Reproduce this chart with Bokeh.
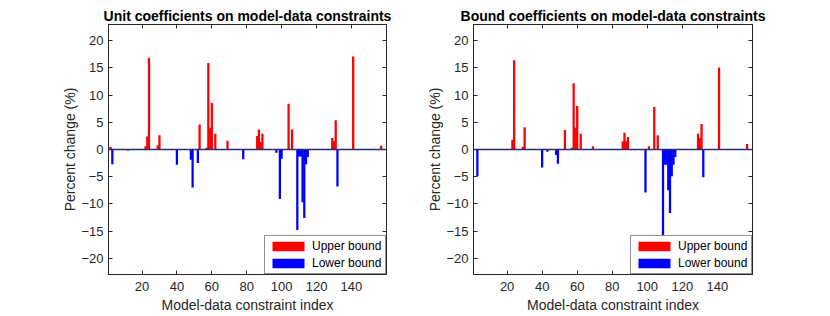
from bokeh.plotting import figure
from bokeh.layouts import row
from bokeh.models import (Range1d, FixedTicker, LinearAxis, Legend, LegendItem,
                          Span, ColumnDataSource)
from bokeh.embed import file_html
from bokeh.resources import INLINE

# ---------------- data ----------------
titles = ["Unit coefficients on model-data constraints",
          "Bound coefficients on model-data constraints"]
x_label = "Model-data constraint index"
y_label = "Percent change (%)"
legend_labels = ["Upper bound", "Lower bound"]
x_ticks = [20, 40, 60, 80, 100, 120, 140]
y_ticks = [-20, -15, -10, -5, 0, 5, 10, 15, 20]
x_lim = (0.8, 160.1)
y_lim = (-23, 23)

unit_upper_idx = [2, 22, 23, 24, 29, 30, 53, 57, 58, 59, 60, 62, 69, 86, 87, 88, 89,
                  104, 106, 129, 130, 131, 141, 157]
unit_upper_val = [0.5, 0.6, 2.4, 16.9, 0.8, 2.6, 4.6, 0.3, 15.9, 4.0, 8.6, 2.9, 1.6,
                  2.5, 3.7, 1.4, 2.9, 8.4, 3.7, 2.1, 1.5, 5.4, 17.1, 0.7]
unit_lower_idx = [3, 12, 40, 48, 49, 52, 78, 97, 99, 100, 109, 110, 111, 112, 113,
                  114, 115, 132]
unit_lower_val = [-2.7, -0.2, -2.8, -1.9, -7.0, -2.5, -1.8, -0.6, -9.1, -1.7, -14.8,
                  -1.3, -1.3, -9.7, -12.6, -2.7, -1.4, -6.8]

bound_upper_idx = [23, 24, 29, 30, 53, 57, 58, 59, 60, 62, 69, 86, 87, 88, 89, 101,
                   104, 106, 129, 130, 131, 141, 157]
bound_upper_val = [1.8, 16.4, 0.5, 4.1, 3.6, 0.3, 12.2, 4.0, 8.0, 2.9, 0.6, 1.5, 3.1,
                   1.5, 2.3, 0.6, 7.8, 2.6, 2.9, 2.1, 4.7, 15.1, 1.0]
bound_lower_idx = [3, 40, 43, 48, 49, 99, 109, 110, 111, 112, 113, 114, 115, 116, 132]
bound_lower_val = [-4.9, -3.3, -0.4, -1.0, -2.6, -7.9, -15.9, -2.8, -2.8, -7.5,
                   -11.7, -4.9, -2.8, -1.4, -5.1]

FONT = "Liberation Sans"
TXT = "#262626"


def make_panel(title, up_idx, up_val, lo_idx, lo_val, width, border_left, border_right):
    p = figure(width=width, height=316, x_range=Range1d(*x_lim),
               y_range=Range1d(*y_lim), output_backend="svg",
               toolbar_location=None, min_border_left=border_left,
               min_border_right=border_right, min_border_top=24,
               min_border_bottom=42)
    p.grid.visible = False
    p.outline_line_color = TXT
    p.outline_line_width = 1
    p.background_fill_color = "white"

    p.title.text = title
    p.title.text_font = FONT
    p.title.text_font_size = "14px"
    p.title.text_font_style = "bold"
    p.title.text_color = "black"
    p.title.align = "center"
    p.title.standoff = 2
    p.title.text_line_height = 0.8

    up_src = ColumnDataSource(dict(x=up_idx, top=up_val))
    lo_src = ColumnDataSource(dict(x=lo_idx, top=lo_val))
    r_up = p.vbar(x="x", top="top", bottom=0, width=1.3, source=up_src,
                  fill_color="#ff0000", line_color=None)
    r_lo = p.vbar(x="x", top="top", bottom=0, width=1.3, source=lo_src,
                  fill_color="#0000ff", line_color=None)

    p.add_layout(Span(location=0, dimension="width", line_color="#2b2b7a",
                      line_width=1.5))

    for ax in (p.xaxis[0], p.yaxis[0]):
        ax.major_tick_in = 4
        ax.major_tick_out = 0
        ax.minor_tick_in = 0
        ax.minor_tick_out = 0
        ax.axis_line_color = TXT
        ax.major_tick_line_color = TXT
        ax.major_label_text_font = FONT
        ax.major_label_text_font_size = "13px"
        ax.major_label_text_color = TXT
        ax.axis_label_text_font = FONT
        ax.axis_label_text_font_size = "14px"
        ax.axis_label_text_font_style = "normal"
        ax.axis_label_text_color = TXT
    p.xaxis[0].ticker = FixedTicker(ticks=x_ticks)
    p.yaxis[0].ticker = FixedTicker(ticks=y_ticks)
    p.xaxis[0].axis_label = x_label
    p.yaxis[0].axis_label = y_label
    p.xaxis[0].major_label_standoff = 7
    p.xaxis[0].axis_label_standoff = 3
    p.yaxis[0].major_label_standoff = 5
    p.yaxis[0].axis_label_standoff = 0

    top_ax = LinearAxis(ticker=FixedTicker(ticks=x_ticks), major_tick_in=4,
                        major_tick_out=0, minor_tick_in=0, minor_tick_out=0,
                        major_label_text_font_size="1px",
                        major_label_text_color=None, major_label_standoff=0,
                        axis_line_color=TXT, major_tick_line_color=TXT)
    right_ax = LinearAxis(ticker=FixedTicker(ticks=y_ticks), major_tick_in=4,
                          major_tick_out=0, minor_tick_in=0, minor_tick_out=0,
                          major_label_text_font_size="1px",
                          major_label_text_color=None, major_label_standoff=0,
                          axis_line_color=TXT, major_tick_line_color=TXT)
    p.add_layout(top_ax, "above")
    p.add_layout(right_ax, "right")

    legend = Legend(items=[LegendItem(label=legend_labels[0], renderers=[r_up]),
                           LegendItem(label=legend_labels[1], renderers=[r_lo])],
                    location="bottom_right", margin=0, padding=3, spacing=3,
                    glyph_width=40, glyph_height=12, label_height=12,
                    label_standoff=4, label_width=70,
                    label_text_font=FONT, label_text_font_size="12px",
                    label_text_color="black", border_line_color=TXT,
                    border_line_width=1, background_fill_alpha=1)
    p.add_layout(legend)
    return p


p1 = make_panel(titles[0], unit_upper_idx, unit_upper_val,
                unit_lower_idx, unit_lower_val, 415, 108, 29)
p2 = make_panel(titles[1], bound_upper_idx, bound_upper_val,
                bound_lower_idx, bound_lower_val, 407, 58, 70)

layout = row(p1, p2, spacing=0)
open("out.html", "w").write(file_html(layout, INLINE))
